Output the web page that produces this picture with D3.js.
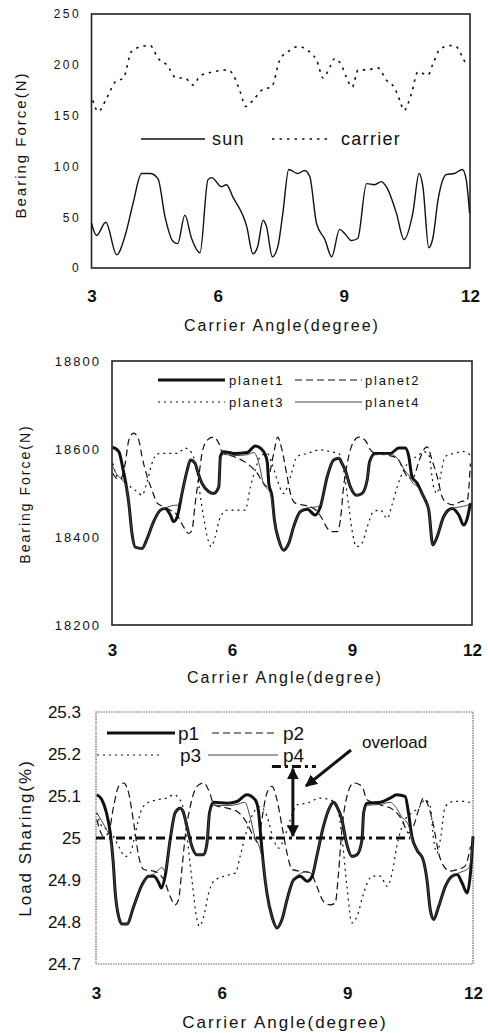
<!DOCTYPE html>
<html>
<head>
<meta charset="utf-8">
<script src="https://cdn.jsdelivr.net/npm/d3@7"></script>
<style>
  html, body { margin: 0; padding: 0; background: #fff; }
  svg { display: block; }
  text { font-family: Arial, "Liberation Sans", Helvetica, sans-serif; fill: #111; }
</style>
</head>
<body>
<svg id="chart" width="488" height="1033"></svg>
<script>
// ---------- shared axis data ----------
const angleTicks = [3, 6, 9, 12];
const angleTitle = "Carrier Angle(degree)";

// ---------- panel 1: sun / carrier bearing force ----------
const p1Ticks = [0, 50, 100, 150, 200, 250];
const sunAngle = [3.00,3.12,3.34,3.60,3.80,3.99,4.19,4.39,4.58,4.75,4.94,5.05,5.22,5.38,5.58,5.77,5.86,6.09,6.21,6.36,6.69,6.84,6.95,7.08,7.16,7.30,7.43,7.55,7.69,7.90,8.07,8.19,8.35,8.55,8.71,8.90,9.02,9.18,9.33,9.54,9.73,9.89,10.01,10.25,10.43,10.64,10.79,10.88,11.02,11.12,11.24,11.44,11.63,11.82,11.91,11.99];
const sunForce = [44,32,45,13,32,64,93,93,88,50,26,24,52,29,15,87,89,80,82,70,41,14,21,47,41,11,21,54,97,93,96,90,44,28,11,38,34,27,29,83,82,85,80,54,28,54,93,80,20,30,67,92,93,97,87,54];
const carrierAngle = [3.03,3.16,3.36,3.56,3.76,3.95,4.19,4.39,4.59,4.79,5.02,5.22,5.42,5.58,5.89,6.25,6.37,6.53,6.67,6.84,7.08,7.28,7.48,7.71,7.91,8.23,8.35,8.51,8.67,8.78,8.94,9.06,9.20,9.34,9.54,9.81,10.01,10.21,10.33,10.43,10.61,10.76,11.00,11.12,11.28,11.52,11.67,11.79,11.91];
const carrierForce = [165,154,167,183,187,213,218,219,206,200,187,187,180,189,193,195,190,174,159,165,176,178,205,214,218,211,205,187,198,206,200,188,178,195,195,197,185,177,165,155,172,193,190,201,215,219,218,210,200];

// ---------- panel 2: planet bearing force ----------
const p2Ticks = [18200, 18400, 18600, 18800];
const planet1Angle = [3.02,3.17,3.28,3.36,3.42,3.50,3.58,3.75,3.88,4.04,4.21,4.33,4.46,4.54,4.63,4.75,4.88,4.96,5.08,5.13,5.25,5.42,5.54,5.67,5.71,5.79,6.04,6.38,6.58,6.79,6.88,6.92,7.00,7.06,7.17,7.29,7.42,7.54,7.71,7.88,8.08,8.21,8.38,8.54,8.67,8.75,8.83,8.96,9.11,9.25,9.38,9.44,9.58,9.96,10.17,10.33,10.42,10.50,10.63,10.75,10.83,10.92,11.02,11.13,11.29,11.50,11.67,11.79,11.88,11.96];
const planet1Force = [18604,18594,18552,18514,18477,18408,18377,18374,18397,18435,18461,18465,18450,18435,18446,18499,18552,18575,18567,18552,18522,18503,18499,18514,18583,18594,18590,18592,18607,18594,18571,18522,18492,18439,18393,18370,18386,18423,18458,18463,18450,18469,18537,18575,18579,18567,18552,18514,18495,18499,18530,18571,18590,18590,18602,18602,18583,18537,18522,18499,18484,18461,18382,18401,18446,18465,18450,18427,18442,18477];
const planet2Angle = [3.02,3.13,3.25,3.33,3.42,3.54,3.67,3.75,3.88,4.00,4.13,4.29,4.46,4.63,4.79,4.92,5.00,5.08,5.17,5.25,5.38,5.53,5.67,5.75,6.04,6.38,6.63,6.79,6.88,6.96,7.06,7.14,7.25,7.38,7.48,7.58,7.75,7.96,8.13,8.25,8.38,8.50,8.63,8.71,8.79,8.88,9.00,9.17,9.33,9.46,9.58,9.88,10.13,10.29,10.42,10.54,10.67,10.79,10.88,11.00,11.13,11.25,11.38,11.54,11.71,11.88,11.96];
const planet2Force = [18545,18533,18537,18567,18620,18636,18620,18583,18537,18507,18477,18469,18461,18450,18423,18408,18416,18477,18537,18590,18620,18627,18613,18594,18583,18567,18545,18522,18514,18552,18598,18627,18598,18537,18492,18477,18473,18469,18458,18442,18420,18412,18412,18439,18514,18567,18609,18627,18620,18598,18590,18586,18579,18552,18533,18537,18571,18598,18605,18575,18537,18492,18477,18473,18480,18483,18567];
const planet3Angle = [3.02,3.13,3.29,3.46,3.63,3.75,3.88,4.00,4.13,4.38,4.63,4.83,5.00,5.13,5.21,5.29,5.38,5.48,5.58,5.71,5.88,6.13,6.33,6.46,6.58,6.71,6.88,7.00,7.13,7.29,7.46,7.63,7.88,8.21,8.46,8.67,8.79,8.92,9.00,9.11,9.25,9.38,9.54,9.71,9.88,10.00,10.13,10.29,10.46,10.63,10.79,10.92,11.04,11.13,11.21,11.33,11.54,11.79,11.96];
const planet3Force = [18567,18537,18530,18514,18503,18495,18526,18567,18589,18590,18590,18602,18590,18545,18492,18446,18401,18378,18401,18446,18461,18461,18461,18514,18552,18583,18590,18567,18530,18499,18537,18583,18590,18598,18594,18590,18552,18469,18416,18378,18386,18423,18458,18461,18442,18473,18514,18552,18575,18583,18594,18586,18514,18499,18537,18583,18590,18594,18586];
const planet4Angle = [3.02,3.14,3.25,3.36,3.42,3.50,3.58,3.75,3.88,4.04,4.21,4.33,4.46,4.54,4.63,4.75,4.88,4.96,5.08,5.13,5.25,5.42,5.54,5.67,5.71,5.79,6.04,6.38,6.55,6.68,6.79,6.88,6.96,7.06,7.17,7.29,7.42,7.54,7.71,7.88,8.08,8.21,8.38,8.54,8.67,8.75,8.83,8.96,9.11,9.25,9.38,9.44,9.58,9.96,10.17,10.33,10.42,10.50,10.63,10.75,10.83,10.92,11.02,11.13,11.29,11.50,11.67,11.79,11.88,11.96];
const planet4Force = [18560,18540,18530,18514,18477,18408,18377,18374,18397,18435,18461,18466,18470,18472,18472,18499,18552,18575,18567,18552,18522,18503,18499,18514,18578,18588,18585,18587,18592,18565,18520,18510,18500,18439,18393,18370,18386,18423,18458,18466,18468,18472,18537,18575,18579,18567,18552,18514,18495,18499,18530,18568,18587,18588,18575,18550,18540,18525,18515,18499,18484,18461,18382,18401,18446,18465,18468,18470,18472,18477];

// ---------- panel 3: load sharing ----------
const p3Ticks = [24.7, 24.8, 24.9, 25, 25.1, 25.2, 25.3];
const p3TickLabels = ["24.7", "24.8", "24.9", "25", "25.1", "25.2", "25.3"];
const p1ShareAngle = [3.02,3.14,3.25,3.34,3.41,3.46,3.54,3.62,3.74,3.90,4.10,4.26,4.38,4.50,4.56,4.65,4.77,4.89,5.01,5.08,5.17,5.29,5.41,5.57,5.65,5.71,5.81,6.13,6.37,6.60,6.80,6.88,6.92,7.00,7.08,7.20,7.32,7.44,7.56,7.72,7.88,8.04,8.16,8.27,8.43,8.59,8.67,8.75,8.87,8.99,9.11,9.23,9.35,9.39,9.47,9.79,10.02,10.18,10.38,10.46,10.54,10.66,10.81,10.90,10.98,11.06,11.18,11.34,11.50,11.62,11.74,11.86,11.94,12.00];
const p1Share = [25.103,25.091,25.060,25.012,24.944,24.869,24.813,24.795,24.795,24.837,24.889,24.909,24.909,24.893,24.881,24.909,24.996,25.060,25.071,25.063,25.028,24.980,24.960,24.960,24.988,25.060,25.085,25.083,25.087,25.103,25.091,25.063,25.020,24.933,24.869,24.813,24.786,24.806,24.853,24.901,24.909,24.897,24.909,24.956,25.028,25.075,25.085,25.075,25.044,24.984,24.956,24.960,24.996,25.060,25.083,25.085,25.095,25.103,25.099,25.060,25.004,24.972,24.948,24.901,24.829,24.806,24.837,24.885,24.909,24.913,24.893,24.869,24.917,25.004];
const p2ShareAngle = [3.02,3.18,3.30,3.42,3.54,3.66,3.78,3.90,4.02,4.14,4.38,4.62,4.77,4.89,4.97,5.05,5.13,5.25,5.41,5.57,5.73,5.81,6.13,6.37,6.60,6.76,6.88,6.96,7.08,7.20,7.32,7.44,7.56,7.68,7.88,8.12,8.27,8.43,8.59,8.71,8.79,8.87,8.99,9.15,9.35,9.47,9.79,10.10,10.30,10.46,10.58,10.70,10.82,10.94,11.06,11.18,11.30,11.46,11.62,11.81,11.94];
const p2Share = [25.044,25.004,25.012,25.075,25.123,25.131,25.107,25.036,24.956,24.925,24.921,24.901,24.861,24.841,24.853,24.925,25.004,25.075,25.123,25.131,25.103,25.079,25.071,25.063,25.036,25.004,24.988,25.044,25.107,25.123,25.091,25.028,24.964,24.925,24.921,24.917,24.885,24.849,24.841,24.845,24.917,25.020,25.099,25.131,25.123,25.091,25.079,25.067,25.044,25.012,25.028,25.067,25.095,25.075,25.028,24.964,24.933,24.921,24.925,24.933,24.980];
const p3ShareAngle = [3.02,3.14,3.34,3.54,3.70,3.82,3.94,4.06,4.22,4.46,4.69,4.85,5.05,5.17,5.29,5.41,5.47,5.57,5.69,5.81,6.05,6.33,6.44,6.56,6.72,6.92,7.08,7.24,7.36,7.48,7.64,7.80,8.04,8.35,8.59,8.75,8.87,8.99,9.11,9.23,9.39,9.59,9.79,9.95,10.07,10.18,10.34,10.54,10.70,10.86,10.98,11.06,11.14,11.22,11.34,11.54,11.78,11.98];
const p3Share = [25.060,25.028,25.016,24.980,24.956,24.964,25.012,25.060,25.083,25.091,25.095,25.103,25.083,25.004,24.901,24.806,24.790,24.813,24.869,24.897,24.909,24.917,24.956,25.004,25.052,25.075,25.052,24.996,24.976,24.996,25.044,25.079,25.083,25.095,25.091,25.079,25.004,24.885,24.798,24.813,24.869,24.909,24.909,24.885,24.917,24.980,25.036,25.060,25.071,25.091,25.075,24.996,24.964,24.996,25.075,25.087,25.087,25.083];
const p4ShareAngle = [3.02,3.14,3.25,3.34,3.41,3.46,3.54,3.62,3.74,3.90,4.10,4.26,4.38,4.50,4.58,4.65,4.77,4.89,5.01,5.08,5.17,5.29,5.41,5.57,5.65,5.71,5.81,6.13,6.37,6.55,6.68,6.80,6.88,6.95,7.00,7.08,7.20,7.32,7.44,7.56,7.72,7.88,8.04,8.16,8.27,8.43,8.59,8.67,8.75,8.87,8.99,9.11,9.23,9.35,9.39,9.47,9.79,10.02,10.18,10.30,10.46,10.54,10.66,10.81,10.90,10.98,11.06,11.18,11.34,11.50,11.62,11.74,11.86,11.94,12.00];
const p4Share = [25.060,25.040,25.020,25.000,24.944,24.869,24.813,24.795,24.795,24.837,24.889,24.909,24.915,24.925,24.930,24.920,24.996,25.060,25.071,25.063,25.028,24.980,24.960,24.960,24.988,25.055,25.078,25.077,25.080,25.085,25.050,25.000,24.985,24.960,24.933,24.869,24.813,24.786,24.806,24.853,24.901,24.915,24.920,24.915,24.956,25.028,25.075,25.085,25.075,25.044,24.984,24.956,24.960,24.996,25.055,25.078,25.080,25.085,25.070,25.050,25.030,25.000,24.972,24.948,24.901,24.829,24.806,24.837,24.885,24.909,24.915,24.920,24.925,24.940,25.000];

// equal-share reference and overload marker
const equalShare = 25.0;
const equalShareRange = [3, 10.5];
const overloadPeak = 25.17;
const overloadAngle = 7.7;
const overloadRange = [7.2, 8.25];
const overloadLabel = "overload";

// ---------- drawing ----------
const svg = d3.select("#chart");
const ink = "#111";

function zip(xs, ys) { return xs.map((x, i) => ({ x, y: ys[i] })); }

function panel(opt) {
  const x = d3.scaleLinear().domain([3, 12]).range([opt.left, opt.right]);
  const y = d3.scaleLinear().domain(opt.yDomain).range([opt.bottom, opt.top]);
  const g = svg.append("g");

  // frame
  g.append("rect")
    .attr("x", opt.left).attr("y", opt.top)
    .attr("width", opt.right - opt.left).attr("height", opt.bottom - opt.top)
    .attr("fill", "none").attr("stroke", opt.frameColor)
    .attr("stroke-width", opt.frameWidth)
    .attr("stroke-dasharray", opt.frameDash || null);

  // y tick labels
  const yAxis = d3.axisLeft(y).tickValues(opt.yTicks).tickSize(0).tickPadding(0)
    .tickFormat((d, i) => opt.yTickLabels ? opt.yTickLabels[i] : d);
  const ya = g.append("g").attr("transform", `translate(${opt.yLabelX},0)`).call(yAxis);
  ya.select(".domain").remove();
  ya.selectAll("text")
    .attr("font-size", opt.yTickSize).attr("letter-spacing", opt.yTickSpacing)
    .attr("font-weight", opt.yTickWeight || "normal")
    .attr("fill", ink).attr("font-family", "Arial, 'Liberation Sans', sans-serif");

  // x tick labels
  const xAxis = d3.axisBottom(x).tickValues(angleTicks).tickSize(0).tickPadding(0);
  const xa = g.append("g").attr("transform", `translate(0,${opt.xLabelY})`).call(xAxis);
  xa.select(".domain").remove();
  xa.selectAll("text")
    .attr("font-size", opt.xTickSize).attr("font-weight", "bold")
    .attr("dy", "0.35em").attr("y", 0)
    .attr("fill", ink).attr("font-family", "Arial, 'Liberation Sans', sans-serif");

  // axis titles
  g.append("text").attr("x", opt.xTitleX).attr("y", opt.xTitleY)
    .attr("text-anchor", "middle").attr("dominant-baseline", "central")
    .attr("font-size", opt.titleSize).attr("letter-spacing", opt.titleSpacing)
    .text(angleTitle);
  g.append("text")
    .attr("transform", `translate(${opt.yTitleX},${opt.yTitleY}) rotate(-90)`)
    .attr("text-anchor", "middle").attr("dominant-baseline", "central")
    .attr("font-size", opt.yTitleSize).attr("letter-spacing", opt.yTitleSpacing)
    .text(opt.yTitle);

  // series
  const line = d3.line().x(d => x(d.x)).y(d => y(d.y)).curve(d3.curveMonotoneX);
  opt.series.forEach(s => {
    g.append("path").datum(zip(s.xs, s.ys))
      .attr("d", line).attr("fill", "none")
      .attr("stroke", s.color || ink).attr("stroke-width", s.width)
      .attr("stroke-dasharray", s.dash || null)
      .attr("stroke-linejoin", "round").attr("stroke-linecap", s.cap || "butt");
  });

  // legend
  opt.legend.forEach(it => {
    const s = opt.series[it.i];
    g.append("line").attr("x1", it.x1).attr("x2", it.x2).attr("y1", it.y).attr("y2", it.y)
      .attr("stroke", s.color || ink).attr("stroke-width", s.width)
      .attr("stroke-dasharray", s.dash || null);
    g.append("text").attr("x", it.tx).attr("y", it.y).attr("dominant-baseline", "central")
      .attr("font-size", opt.legendSize).attr("letter-spacing", opt.legendSpacing)
      .text(it.label);
  });

  return { g, x, y };
}

// panel 1
panel({
  left: 91.5, right: 470, top: 14, bottom: 268,
  yDomain: [0, 250], yTicks: p1Ticks,
  frameColor: "#222", frameWidth: 1.6,
  yLabelX: 81, yTickSize: 12, yTickSpacing: 2.4,
  xLabelY: 296, xTickSize: 17,
  xTitleX: 282, xTitleY: 325, titleSize: 16, titleSpacing: 2,
  yTitle: "Bearing Force(N)", yTitleX: 20, yTitleY: 145, yTitleSize: 15, yTitleSpacing: 2,
  series: [
    { xs: sunAngle, ys: sunForce, width: 1.4 },
    { xs: carrierAngle, ys: carrierForce, width: 1.6, dash: "2.5,5" }
  ],
  legendSize: 18, legendSpacing: 1.3,
  legend: [
    { i: 0, x1: 141, x2: 205, y: 139, tx: 212, label: "sun" },
    { i: 1, x1: 272, x2: 332, y: 139, tx: 341, label: "carrier" }
  ]
});

// panel 2
panel({
  left: 112, right: 472, top: 361, bottom: 625,
  yDomain: [18200, 18800], yTicks: p2Ticks,
  frameColor: "#222", frameWidth: 1.6,
  yLabelX: 101, yTickSize: 13, yTickSpacing: 2,
  xLabelY: 650, xTickSize: 17,
  xTitleX: 285, xTitleY: 677, titleSize: 16, titleSpacing: 2,
  yTitle: "Bearing Force(N)", yTitleX: 25, yTitleY: 494, yTitleSize: 14, yTitleSpacing: 2,
  series: [
    { xs: planet1Angle, ys: planet1Force, width: 3 },
    { xs: planet2Angle, ys: planet2Force, width: 1.2, dash: "7,4" },
    { xs: planet3Angle, ys: planet3Force, width: 1.2, dash: "2,4" },
    { xs: planet4Angle, ys: planet4Force, width: 1, color: "#444" }
  ],
  legendSize: 13, legendSpacing: 1.8,
  legend: [
    { i: 0, x1: 158, x2: 225, y: 380, tx: 229, label: "planet1" },
    { i: 1, x1: 295, x2: 362, y: 380, tx: 365, label: "planet2" },
    { i: 2, x1: 158, x2: 225, y: 402, tx: 229, label: "planet3" },
    { i: 3, x1: 295, x2: 362, y: 402, tx: 365, label: "planet4" }
  ]
});

// panel 3
const p3 = panel({
  left: 96, right: 473, top: 712, bottom: 964,
  yDomain: [24.7, 25.3], yTicks: p3Ticks, yTickLabels: p3TickLabels,
  frameColor: "#666", frameWidth: 1.2, frameDash: "1.5,1",
  yLabelX: 81, yTickSize: 17, yTickSpacing: 0,
  xLabelY: 993, xTickSize: 17,
  xTitleX: 285, xTitleY: 1022, titleSize: 17, titleSpacing: 2,
  yTitle: "Load Sharing(%)", yTitleX: 25, yTitleY: 838, yTitleSize: 17, yTitleSpacing: 2,
  series: [
    { xs: p1ShareAngle, ys: p1Share, width: 3 },
    { xs: p2ShareAngle, ys: p2Share, width: 1.2, dash: "7,4" },
    { xs: p3ShareAngle, ys: p3Share, width: 1.2, dash: "2,4" },
    { xs: p4ShareAngle, ys: p4Share, width: 1, color: "#444" }
  ],
  legendSize: 19, legendSpacing: 0,
  legend: [
    { i: 0, x1: 107, x2: 175, y: 733, tx: 178, label: "p1" },
    { i: 1, x1: 212, x2: 277, y: 733, tx: 283, label: "p2" },
    { i: 2, x1: 97, x2: 163, y: 755, tx: 180, label: "p3" },
    { i: 3, x1: 208, x2: 278, y: 755, tx: 283, label: "p4" }
  ]
});

// equal-share line and overload annotation
{
  const { g, x, y } = p3;
  g.append("line")
    .attr("x1", x(equalShareRange[0])).attr("x2", x(equalShareRange[1]))
    .attr("y1", y(equalShare)).attr("y2", y(equalShare))
    .attr("stroke", ink).attr("stroke-width", 3).attr("stroke-dasharray", "9,4,3,4");
  g.append("line")
    .attr("x1", x(overloadRange[0])).attr("x2", x(overloadRange[1]))
    .attr("y1", y(overloadPeak)).attr("y2", y(overloadPeak))
    .attr("stroke", ink).attr("stroke-width", 3).attr("stroke-dasharray", "9,4,3,4");

  const defs = svg.append("defs");
  defs.append("marker").attr("id", "head").attr("viewBox", "0 0 10 10")
    .attr("refX", 9).attr("refY", 5).attr("markerWidth", 4).attr("markerHeight", 4.4)
    .attr("orient", "auto-start-reverse")
    .append("path").attr("d", "M0,0 L10,5 L0,10 Z").attr("fill", ink);
  defs.append("marker").attr("id", "head2").attr("viewBox", "0 0 10 10")
    .attr("refX", 9).attr("refY", 5).attr("markerWidth", 4).attr("markerHeight", 4)
    .attr("orient", "auto")
    .append("path").attr("d", "M0,0 L10,5 L0,10 Z").attr("fill", ink);

  const ax = x(overloadAngle);
  g.append("line").attr("x1", ax).attr("x2", ax)
    .attr("y1", y(overloadPeak) + 2).attr("y2", y(equalShare) - 2)
    .attr("stroke", ink).attr("stroke-width", 3)
    .attr("marker-start", "url(#head)").attr("marker-end", "url(#head)");

  g.append("text").attr("x", 362).attr("y", 742).attr("dominant-baseline", "central")
    .attr("font-size", 17).text(overloadLabel);
  g.append("line").attr("x1", 351).attr("y1", 750).attr("x2", 306).attr("y2", 786)
    .attr("stroke", ink).attr("stroke-width", 3).attr("marker-end", "url(#head2)");
}
</script>
</body>
</html>
